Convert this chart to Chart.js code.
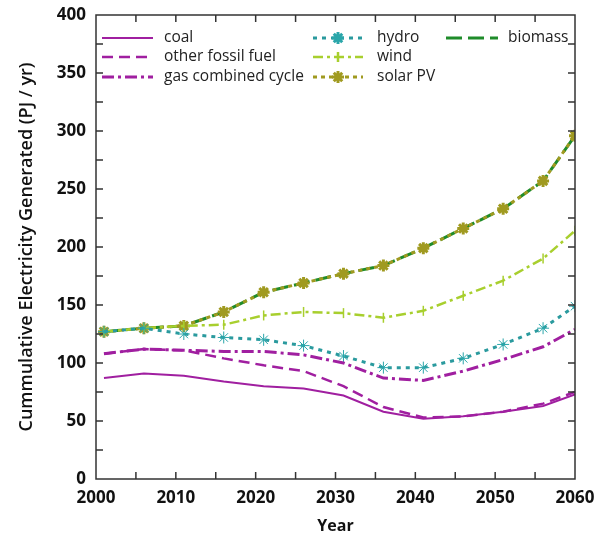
<!DOCTYPE html>
<html>
<head>
<meta charset="utf-8">
<script src="https://cdn.jsdelivr.net/npm/chart.js@4/dist/chart.umd.min.js"></script>
<style>
  html, body { margin: 0; padding: 0; background: #fff; }
  #wrap { width: 595px; height: 536px; }
</style>
</head>
<body>
<div id="wrap"><canvas id="myChart" width="595" height="536"></canvas></div>
<script>
const years = [2001, 2006, 2011, 2016, 2021, 2026, 2031, 2036, 2041, 2046, 2051, 2056, 2060];
const coal = [87, 91, 89, 84, 80, 78, 72, 58, 52, 54, 58, 63, 73];
const otherFossil = [108, 112, 111, 104, 98, 93, 80, 62, 53, 54, 58, 65, 75];
const gasCC = [108, 112, 111, 110, 110, 107, 100, 87, 85, 93, 103, 114, 129];
const hydro = [127, 130, 125, 122, 120, 115, 106, 96, 96, 104, 116, 130, 149];
const wind = [127, 130, 132, 133, 141, 144, 143, 139, 145, 158, 171, 190, 214];
const solarPV = [127, 130, 132, 144, 161, 169, 177, 184, 199, 216, 233, 257, 296];
const biomass = [127, 130, 132, 144, 161, 169, 177, 184, 199, 216, 233, 257, 296];
const xTicks = [2000, 2010, 2020, 2030, 2040, 2050, 2060];
const yTicks = [0, 50, 100, 150, 200, 250, 300, 350, 400];

function pts(vals) {
    return vals.map((v, i) => ({ x: years[i], y: v }));
}

const purple = "#a01fa0";

const datasets = [
    { label: "coal", data: pts(coal), borderColor: purple, borderWidth: 2, pointRadius: 0 },
    { label: "other fossil fuel", data: pts(otherFossil), borderColor: purple, borderWidth: 2.5, borderDash: [11, 6], pointRadius: 0 },
    { label: "gas combined cycle", data: pts(gasCC), borderColor: purple, borderWidth: 3, borderDash: [12, 4, 3, 4], pointRadius: 0 },
    { label: "hydro", data: pts(hydro), borderColor: "#2a9a9e", borderWidth: 3, borderDash: [4, 5], pointStyle: "star", pointRadius: 6, pointBorderWidth: 1, pointBorderColor: "#2aa6aa" },
    { label: "wind", data: pts(wind), borderColor: "#a8cf2e", borderWidth: 2.5, borderDash: [10, 4, 3, 4], pointStyle: "line", rotation: 90, pointRadius: 5, pointBorderWidth: 1.5, pointBorderColor: "#a8cf2e" },
    { label: "solar PV", data: pts(solarPV), borderColor: "#a09a20", borderWidth: 3, borderDash: [4, 4], pointStyle: "star", pointRadius: 6, pointBorderWidth: 3, pointBorderColor: "#a09a20" },
    { label: "biomass", data: pts(biomass), borderColor: "#1f8c2a", borderWidth: 3, borderDash: [16, 6], pointRadius: 0 },
];
datasets.forEach(d => { d.fill = false; d.tension = 0; d.backgroundColor = d.borderColor; });

// frame with inward ticks, plus the legend in three columns
const framePlugin = {
    id: "frame",
    afterDatasetsDraw(chart) {
        const ctx = chart.ctx;
        const a = chart.chartArea;
        const xs = chart.scales.x, ys = chart.scales.y;
        ctx.save();
        ctx.strokeStyle = "#333";
        ctx.lineWidth = 1.5;
        ctx.strokeRect(a.left, a.top, a.right - a.left, a.bottom - a.top);
        ctx.beginPath();
        for (let yr = 2005; yr < 2060; yr += 5) {
            const px = xs.getPixelForValue(yr);
            ctx.moveTo(px, a.bottom); ctx.lineTo(px, a.bottom - 7);
            ctx.moveTo(px, a.top); ctx.lineTo(px, a.top + 7);
        }
        for (let v = 25; v < 400; v += 25) {
            const py = ys.getPixelForValue(v);
            ctx.moveTo(a.left, py); ctx.lineTo(a.left + 7, py);
            ctx.moveTo(a.right, py); ctx.lineTo(a.right - 7, py);
        }
        ctx.stroke();

        // legend
        const cols = [
            { lx: 102, tx: 164, len: 51, items: [0, 1, 2] },
            { lx: 313, tx: 377, len: 50, items: [3, 4, 5] },
            { lx: 446, tx: 508, len: 52, items: [6] },
        ];
        const rowY = [38, 57, 77];
        ctx.font = "15.5px 'Open Sans'";
        ctx.textBaseline = "middle";
        cols.forEach(c => {
            c.items.forEach((di, r) => {
                const d = datasets[di];
                const y = rowY[r];
                ctx.beginPath();
                ctx.strokeStyle = d.borderColor;
                ctx.lineWidth = d.borderWidth;
                ctx.setLineDash(d.borderDash || []);
                ctx.moveTo(c.lx, y); ctx.lineTo(c.lx + c.len, y);
                ctx.stroke();
                ctx.setLineDash([]);
                if (d.pointRadius) {
                    ctx.strokeStyle = d.pointBorderColor;
                    ctx.fillStyle = d.pointBorderColor;
                    Chart.helpers.drawPoint(ctx, {
                        pointStyle: d.pointStyle, radius: d.pointRadius,
                        rotation: d.rotation || 0, borderWidth: d.pointBorderWidth
                    }, c.lx + c.len / 2, y);
                }
                ctx.fillStyle = "#222";
                ctx.fillText(d.label, c.tx, y);
            });
        });
        ctx.restore();
    }
};

const ctx = document.getElementById("myChart").getContext("2d");
new Chart(ctx, {
    type: "line",
    data: { datasets: datasets },
    options: {
        responsive: false,
        animation: false,
        layout: { padding: { top: 15, right: 20, left: 0, bottom: 0 } },
        plugins: { legend: { display: false }, tooltip: { enabled: false } },
        scales: {
            x: {
                type: "linear", min: 2000, max: 2060,
                afterBuildTicks(s) { s.ticks = xTicks.map(v => ({ value: v })); },
                afterFit(s) { s.height = 57; s.paddingLeft = 0; s.paddingRight = 0; },
                grid: { display: false, tickLength: 0 }, border: { display: false },
                ticks: { color: "#111", font: { family: "'Open Sans'", weight: "bold", size: 17 }, padding: 9,
                    callback: v => String(v), maxRotation: 0 },
                title: { display: true, text: "Year", color: "#111", font: { family: "'Open Sans'", weight: "bold", size: 16 }, padding: { top: 0, bottom: 0 } },
            },
            y: {
                min: 0, max: 400,
                afterBuildTicks(s) { s.ticks = yTicks.map(v => ({ value: v })); },
                afterFit(s) { s.width = 96; s.paddingTop = 0; s.paddingBottom = 0; },
                grid: { display: false, tickLength: 0 }, border: { display: false },
                ticks: { color: "#111", font: { family: "'Open Sans'", weight: "bold", size: 17 }, padding: 10 },
                title: { display: true, text: "Cummulative Electricity Generated (PJ / yr)", color: "#111", font: { family: "'Open Sans'", weight: "600", size: 18 }, padding: { top: 16, bottom: 4 } },
            },
        },
    },
    plugins: [framePlugin],
});
</script>
</body>
</html>
